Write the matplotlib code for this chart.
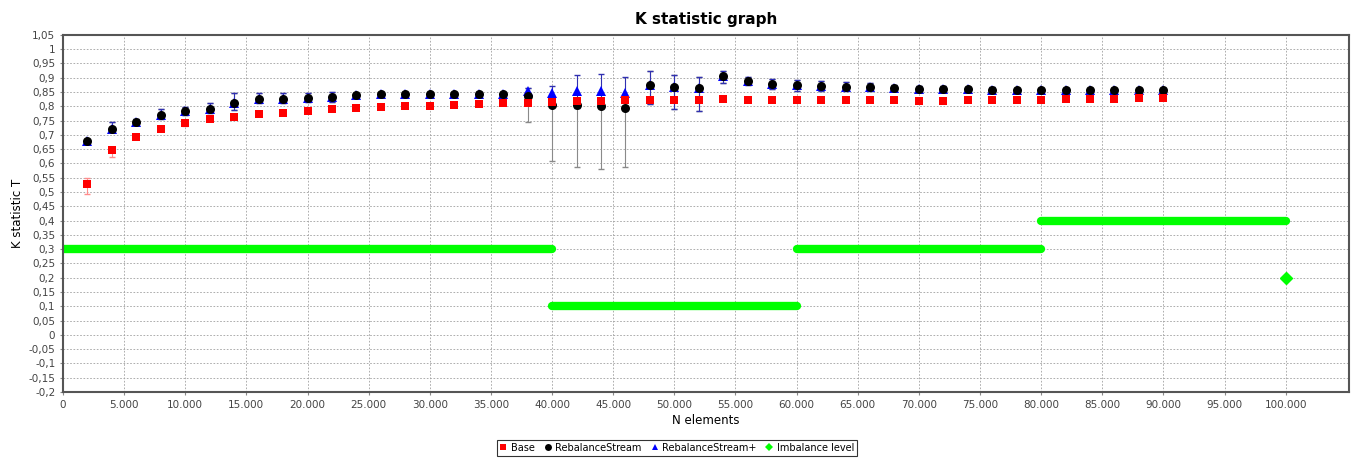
import matplotlib
matplotlib.use("Agg")
import matplotlib.pyplot as plt
from matplotlib.ticker import FuncFormatter, MultipleLocator
from matplotlib.lines import Line2D
import numpy as np

# datos
n_elements = [2000, 4000, 6000, 8000, 10000, 12000, 14000, 16000, 18000, 20000,
              22000, 24000, 26000, 28000, 30000, 32000, 34000, 36000, 38000, 40000,
              42000, 44000, 46000, 48000, 50000, 52000, 54000, 56000, 58000, 60000,
              62000, 64000, 66000, 68000, 70000, 72000, 74000, 76000, 78000, 80000,
              82000, 84000, 86000, 88000, 90000]

base_y = [0.527, 0.647, 0.692, 0.720, 0.740, 0.754, 0.764, 0.772, 0.778, 0.784,
          0.789, 0.793, 0.797, 0.800, 0.802, 0.806, 0.809, 0.811, 0.813, 0.815,
          0.818, 0.820, 0.821, 0.822, 0.822, 0.823, 0.825, 0.823, 0.823, 0.822,
          0.822, 0.822, 0.822, 0.822, 0.820, 0.820, 0.821, 0.821, 0.822, 0.823,
          0.824, 0.826, 0.827, 0.828, 0.830]
base_lo = [0.492, 0.624, 0.685, 0.713, 0.730, 0.748, 0.758, 0.767, 0.773, 0.779,
           0.784, 0.788, 0.792, 0.795, 0.797, 0.801, 0.804, 0.806, 0.808, 0.810,
           0.813, 0.815, 0.816, 0.817, 0.817, 0.818, 0.820, 0.818, 0.818, 0.817,
           0.817, 0.817, 0.817, 0.817, 0.815, 0.815, 0.816, 0.816, 0.817, 0.818,
           0.819, 0.821, 0.822, 0.823, 0.825]
base_hi = [0.548, 0.658, 0.700, 0.727, 0.750, 0.760, 0.770, 0.777, 0.783, 0.789,
           0.794, 0.798, 0.802, 0.805, 0.807, 0.811, 0.814, 0.816, 0.818, 0.820,
           0.823, 0.825, 0.826, 0.827, 0.827, 0.828, 0.830, 0.828, 0.828, 0.827,
           0.827, 0.827, 0.827, 0.827, 0.825, 0.825, 0.826, 0.826, 0.827, 0.828,
           0.829, 0.831, 0.832, 0.833, 0.835]

rs_y = [0.677, 0.722, 0.746, 0.768, 0.783, 0.791, 0.811, 0.826, 0.827, 0.830,
        0.832, 0.839, 0.843, 0.843, 0.843, 0.843, 0.844, 0.844, 0.836, 0.805,
        0.805, 0.802, 0.793, 0.876, 0.869, 0.863, 0.907, 0.887, 0.879, 0.875,
        0.872, 0.869, 0.867, 0.865, 0.862, 0.861, 0.859, 0.858, 0.857, 0.857,
        0.857, 0.857, 0.857, 0.857, 0.857]
rs_lo = [0.667, 0.713, 0.738, 0.754, 0.771, 0.777, 0.786, 0.810, 0.812, 0.815,
         0.816, 0.830, 0.835, 0.835, 0.835, 0.835, 0.836, 0.836, 0.746, 0.610,
         0.586, 0.581, 0.587, 0.807, 0.792, 0.785, 0.882, 0.874, 0.859, 0.852,
         0.855, 0.853, 0.855, 0.855, 0.852, 0.852, 0.850, 0.850, 0.850, 0.850,
         0.850, 0.850, 0.850, 0.850, 0.850]
rs_hi = [0.687, 0.744, 0.756, 0.791, 0.799, 0.810, 0.847, 0.847, 0.847, 0.847,
         0.851, 0.848, 0.851, 0.851, 0.851, 0.851, 0.851, 0.851, 0.863, 0.830,
         0.830, 0.830, 0.820, 0.922, 0.911, 0.904, 0.925, 0.904, 0.895, 0.893,
         0.887, 0.884, 0.880, 0.876, 0.872, 0.870, 0.868, 0.866, 0.864, 0.864,
         0.864, 0.864, 0.864, 0.864, 0.864]

rsp_y = [0.677, 0.722, 0.746, 0.768, 0.783, 0.791, 0.811, 0.826, 0.827, 0.830,
         0.832, 0.839, 0.843, 0.843, 0.843, 0.843, 0.844, 0.844, 0.852, 0.846,
         0.852, 0.854, 0.845, 0.876, 0.869, 0.863, 0.907, 0.887, 0.879, 0.875,
         0.872, 0.869, 0.867, 0.865, 0.862, 0.861, 0.859, 0.858, 0.857, 0.857,
         0.857, 0.857, 0.857, 0.857, 0.857]
rsp_lo = [0.667, 0.713, 0.738, 0.754, 0.771, 0.777, 0.786, 0.810, 0.812, 0.815,
          0.816, 0.830, 0.835, 0.835, 0.835, 0.835, 0.836, 0.836, 0.841, 0.820,
          0.793, 0.794, 0.789, 0.807, 0.792, 0.785, 0.882, 0.874, 0.859, 0.852,
          0.855, 0.853, 0.855, 0.855, 0.852, 0.852, 0.850, 0.850, 0.850, 0.850,
          0.850, 0.850, 0.850, 0.850, 0.850]
rsp_hi = [0.687, 0.744, 0.756, 0.791, 0.799, 0.810, 0.847, 0.847, 0.847, 0.847,
          0.851, 0.848, 0.851, 0.851, 0.851, 0.851, 0.851, 0.851, 0.863, 0.872,
          0.911, 0.914, 0.901, 0.922, 0.911, 0.904, 0.925, 0.904, 0.895, 0.893,
          0.887, 0.884, 0.880, 0.876, 0.872, 0.870, 0.868, 0.866, 0.864, 0.864,
          0.864, 0.864, 0.864, 0.864, 0.864]

# nivel de desbalance (tramos constantes)
imb_start = [0, 40000, 60000, 80000]
imb_end = [40000, 60000, 80000, 100000]
imb_level = [0.3, 0.1, 0.3, 0.4]
imb_point_x = [100000]
imb_point_y = [0.2]


def fmt_y(v, pos):
    s = f"{v:.2f}".rstrip("0").rstrip(".")
    if s in ("-0", ""):
        s = "0"
    return s.replace(".", ",")


def fmt_x(v, pos):
    return f"{int(round(v)):,}".replace(",", ".")


def errores(y, lo, hi):
    y = np.array(y)
    return [y - np.array(lo), np.array(hi) - y]


fig = plt.figure(figsize=(13.54, 4.62), dpi=100)
ax = fig.add_axes([0.0465, 0.1515, 0.95, 0.773])

for a, b, lvl in zip(imb_start, imb_end, imb_level):
    ax.plot([a, b], [lvl, lvl], color='#00ff00', linewidth=6, solid_capstyle='round', zorder=2)
ax.plot(imb_point_x, imb_point_y, linestyle='none', marker='D', markersize=6,
        color='#00ff00', zorder=2)

ax.errorbar(n_elements, base_y, yerr=errores(base_y, base_lo, base_hi), fmt='none',
            ecolor='#ff8c8c', elinewidth=0.8, capsize=2, zorder=3)
ax.errorbar(n_elements, rs_y, yerr=errores(rs_y, rs_lo, rs_hi), fmt='none',
            ecolor='#8a8a8a', elinewidth=0.8, capsize=2, zorder=3)
ax.errorbar(n_elements, rsp_y, yerr=errores(rsp_y, rsp_lo, rsp_hi), fmt='none',
            ecolor='#3030b0', elinewidth=0.8, capsize=2, zorder=3)

ax.plot(n_elements, rsp_y, linestyle='none', marker='^', markersize=6.5, color='#0000ff',
        markeredgewidth=0, zorder=4)
ax.plot(n_elements, rs_y, linestyle='none', marker='o', markersize=6.5, color='black',
        markeredgewidth=0, zorder=5)
ax.plot(n_elements, base_y, linestyle='none', marker='s', markersize=6.2, color='#ff0000',
        markeredgewidth=0, zorder=6)

ax.set_xlim(0, 105200)
ax.set_ylim(-0.2, 1.05)
ax.set_xticks(np.arange(0, 100001, 5000))
ax.yaxis.set_major_locator(MultipleLocator(0.05))
ax.xaxis.set_major_formatter(FuncFormatter(fmt_x))
ax.yaxis.set_major_formatter(FuncFormatter(fmt_y))
ax.tick_params(labelsize=7.5, labelcolor='#444444', color='#888888', length=2)
ax.grid(True, color='#a0a0a0', linestyle=(0, (2, 2)), linewidth=0.6)
ax.set_axisbelow(True)
for s in ax.spines.values():
    s.set_color('#555555')
    s.set_linewidth(1.5)

ax.set_title('K statistic graph', fontsize=11, fontweight='bold', pad=8)
ax.set_xlabel('N elements', fontsize=8.5, labelpad=3)
ax.set_ylabel('K statistic T', fontsize=8.5, labelpad=3)

handles = [
    Line2D([], [], linestyle='none', marker='s', markersize=5, color='#ff0000', markeredgewidth=0),
    Line2D([], [], linestyle='none', marker='o', markersize=5, color='black', markeredgewidth=0),
    Line2D([], [], linestyle='none', marker='^', markersize=5, color='#0000ff', markeredgewidth=0),
    Line2D([], [], linestyle='none', marker='D', markersize=4, color='#00ff00', markeredgewidth=0),
]
labels = ['Base', 'RebalanceStream', 'RebalanceStream+', 'Imbalance level']
leg = fig.legend(handles, labels, loc='center', bbox_to_anchor=(0.5, 0.031), ncol=4,
                 fontsize=7, frameon=True, fancybox=False, handlelength=0.8,
                 handletextpad=0.4, columnspacing=0.9, borderpad=0.3)
leg.get_frame().set_edgecolor('black')
leg.get_frame().set_linewidth(0.8)

fig.savefig('out.png', dpi=100)
